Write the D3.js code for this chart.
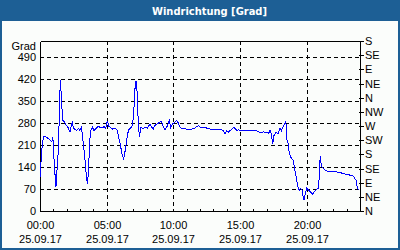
<!DOCTYPE html>
<html>
<head>
<meta charset="utf-8">
<script src="https://cdn.jsdelivr.net/npm/d3@7"></script>
<style>
  html, body { margin: 0; padding: 0; background: #fbfdfb; }
  svg { display: block; }
  text { font-family: "Liberation Sans", Arial, sans-serif; font-size: 11px; fill: #000; }
</style>
</head>
<body>
<svg id="chart" width="400" height="250"></svg>
<script>
// ---- data ----
const title = "Windrichtung [Grad]";
const unitLabel = "Grad";
const dateLabel = "25.09.17";
const xTickHours = [0, 5, 10, 15, 20];
const xTickLabels = ["00:00", "05:00", "10:00", "15:00", "20:00"];
const yTicks = [0, 70, 140, 210, 280, 350, 420, 490];
const compassLabels = ["N", "NE", "E", "SE", "S", "SW", "W", "NW", "N", "NE", "E", "SE", "S"];

const hours = [
  0.00, 0.05, 0.15, 0.25, 0.35, 0.55, 0.75, 0.88, 0.95, 1.02, 1.07, 1.15, 1.20, 1.27, 1.35, 1.45, 1.52, 1.58, 1.63, 1.68,
  1.80, 1.95, 2.10, 2.25, 2.33, 2.42, 2.50, 2.63, 2.75, 2.88, 3.00, 3.10, 3.18, 3.25, 3.33, 3.42, 3.50, 3.57, 3.65, 3.72,
  3.80, 3.93, 4.05, 4.20, 4.38, 4.50, 4.65, 4.80, 4.92, 5.05, 5.15, 5.30, 5.45, 5.60, 5.75, 5.85, 5.95, 6.05, 6.15, 6.28,
  6.38, 6.45, 6.55, 6.65, 6.75, 6.85, 6.95, 7.05, 7.12, 7.20, 7.27, 7.32, 7.38, 7.45, 7.57, 7.75, 7.87, 8.05, 8.25, 8.37,
  8.50, 8.62, 8.80, 8.95, 9.12, 9.25, 9.37, 9.50, 9.62, 9.70, 9.80, 9.95, 10.12, 10.25, 10.37, 10.50, 10.62, 10.87, 11.12, 11.37,
  11.62, 11.87, 12.12, 12.37, 12.62, 12.87, 13.12, 13.37, 13.62, 13.75, 13.87, 14.00, 14.12, 14.25, 14.37, 14.50, 14.62, 14.75, 14.87, 15.00,
  15.25, 15.50, 15.75, 16.00, 16.25, 16.50, 16.75, 17.00, 17.15, 17.25, 17.35, 17.45, 17.55, 17.70, 17.85, 18.00, 18.10, 18.25, 18.40, 18.45,
  18.50, 18.62, 18.70, 18.87, 19.00, 19.12, 19.25, 19.37, 19.45, 19.55, 19.65, 19.72, 19.80, 19.90, 20.00, 20.10, 20.25, 20.45, 20.60, 20.80,
  20.90, 20.97, 21.02, 21.08, 21.15, 21.30, 21.50, 21.75, 22.00, 22.25, 22.50, 22.75, 23.00, 23.25, 23.50, 23.65, 23.70, 23.75, 23.82, 23.90
];
const direction = [
  105, 140, 200, 235, 237, 232, 226, 220, 230, 218, 130, 110, 77, 125, 175, 300, 415, 380, 350, 290,
  284, 274, 265, 252, 268, 284, 265, 258, 256, 263, 256, 264, 245, 210, 183, 140, 98, 87, 140, 215,
  256, 266, 256, 262, 269, 266, 264, 268, 262, 287, 270, 265, 260, 262, 260, 245, 225, 205, 180, 165,
  190, 208, 240, 258, 262, 266, 276, 330, 387, 412, 388, 330, 277, 235, 266, 261, 266, 263, 277, 266,
  261, 272, 277, 282, 284, 266, 258, 266, 277, 287, 266, 277, 282, 287, 280, 266, 261, 262, 258, 260,
  264, 271, 264, 266, 261, 260, 258, 260, 258, 256, 245, 256, 250, 256, 258, 266, 263, 256, 258, 256,
  256, 255, 256, 256, 255, 250, 251, 250, 247, 256, 245, 214, 240, 250, 246, 262, 255, 270, 282, 277,
  230, 214, 182, 166, 161, 129, 98, 72, 66, 72, 66, 50, 35, 56, 72, 68, 62, 54, 62, 70,
  72, 140, 174, 150, 140, 133, 127, 125, 124, 124, 122, 119, 116, 114, 111, 100, 98, 82, 72, 68
];

// ---- drawing ----
const W = 400, H = 250;
const plot = { left: 40, right: 360, top: 41, bottom: 211 };
const svg = d3.select("#chart");

// frame & title bar
const frameColor = "#1d5f95";
svg.append("rect").attr("x", 0).attr("y", 0).attr("width", W).attr("height", H).attr("fill", frameColor);
svg.append("rect").attr("x", 2).attr("y", 21).attr("width", W - 4).attr("height", H - 23).attr("fill", "#fbfdfb");
svg.append("text")
  .attr("x", 209.5).attr("y", 15)
  .attr("text-anchor", "middle")
  .attr("textLength", 115).attr("lengthAdjust", "spacingAndGlyphs")
  .style("font-family", "'DejaVu Sans', Verdana, sans-serif")
  .style("font-weight", "bold").style("font-size", "11px").style("fill", "#fff")
  .text(title);

const x = d3.scaleLinear().domain([0, 24]).range([plot.left, plot.right]);
const y = d3.scaleLinear().domain([0, 540]).range([plot.bottom, plot.top]);
const px = v => Math.round(x(v)) + 0.5;
const py = v => Math.round(y(v)) + 0.5;

const g = svg.append("g").attr("shape-rendering", "crispEdges");

// horizontal dashed gridlines
g.selectAll("line.hgrid").data(yTicks.filter(v => v > 0)).enter().append("line")
  .attr("x1", plot.left).attr("x2", plot.right)
  .attr("y1", d => py(d)).attr("y2", d => py(d))
  .attr("stroke", "#000").attr("stroke-dasharray", "4,3");

// vertical dashed gridlines
g.selectAll("line.vgrid").data(xTickHours.filter(h => h > 0)).enter().append("line")
  .attr("x1", d => px(d)).attr("x2", d => px(d))
  .attr("y1", plot.top).attr("y2", plot.bottom)
  .attr("stroke", "#000").attr("stroke-dasharray", "4,3");

// data line
const line = d3.line().x((d, i) => x(hours[i])).y(d => y(d));
svg.append("path")
  .datum(direction)
  .attr("d", line)
  .attr("fill", "none")
  .attr("stroke", "#0000ff")
  .attr("stroke-width", 1)
  .attr("shape-rendering", "crispEdges");

// box lines
g.append("line").attr("x1", px(0)).attr("x2", px(0)).attr("y1", py(540)).attr("y2", py(0)).attr("stroke", "#000");
g.append("line").attr("x1", px(0)).attr("x2", px(24)).attr("y1", py(0)).attr("y2", py(0)).attr("stroke", "#000");
g.append("line").attr("x1", px(0)).attr("x2", px(24)).attr("y1", py(540)).attr("y2", py(540)).attr("stroke", "#000");
g.append("line").attr("x1", px(24)).attr("x2", px(24)).attr("y1", py(540)).attr("y2", py(0)).attr("stroke", "#000");

// hourly minor ticks on x axis (pointing up)
g.selectAll("line.xtick").data(d3.range(0, 25)).enter().append("line")
  .attr("x1", d => px(d)).attr("x2", d => px(d))
  .attr("y1", py(0)).attr("y2", py(0) - 3)
  .attr("stroke", "#000");

// right compass ticks
const compassValues = compassLabels.map((_, i) => i * 45);
g.selectAll("line.rtick").data(compassValues).enter().append("line")
  .attr("x1", px(24) - 2).attr("x2", px(24) + 3)
  .attr("y1", d => py(d)).attr("y2", d => py(d))
  .attr("stroke", "#000");

// left labels
svg.selectAll("text.ylab").data(yTicks).enter().append("text")
  .attr("x", 36).attr("y", d => py(d)).attr("dy", "0.35em")
  .attr("text-anchor", "end").text(d => d);
svg.append("text").attr("x", 36).attr("y", 50).attr("text-anchor", "end").text(unitLabel);

// right labels
svg.selectAll("text.rlab").data(compassLabels).enter().append("text")
  .attr("x", 365).attr("y", (d, i) => py(compassValues[i])).attr("dy", "0.35em")
  .text(d => d);

// x labels
svg.selectAll("text.xlab").data(xTickHours).enter().append("text")
  .attr("x", d => px(d)).attr("y", 229).attr("text-anchor", "middle")
  .text((d, i) => xTickLabels[i]);
svg.selectAll("text.xdate").data(xTickHours).enter().append("text")
  .attr("x", d => px(d)).attr("y", 243).attr("text-anchor", "middle")
  .text(dateLabel);
</script>
</body>
</html>
